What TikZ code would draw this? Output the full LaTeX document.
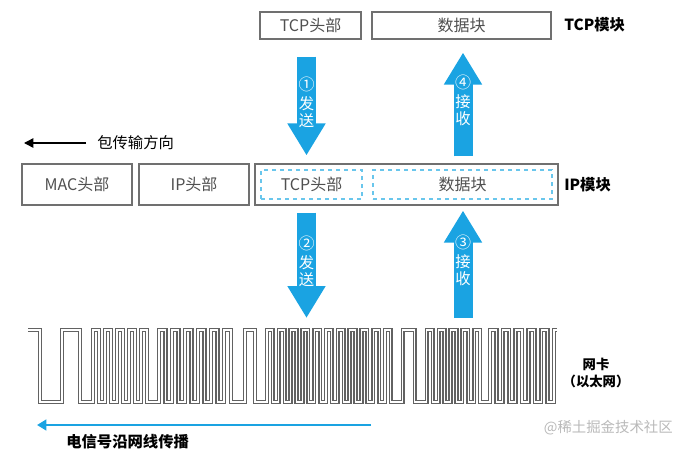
\documentclass[tikz,border=0pt]{standalone}
\usepackage{fontspec}
\setmainfont{Noto Sans CJK SC}
\usepackage{tikz}
\usetikzlibrary{shapes,arrows.meta,calc}
\definecolor{boxgray}{RGB}{112,112,112}
\definecolor{txtgray}{RGB}{80,80,80}
\definecolor{netblue}{RGB}{26,163,226}
\definecolor{dashblue}{RGB}{105,198,236}
\definecolor{wiregray}{RGB}{98,98,98}
\definecolor{markgray}{RGB}{185,185,185}
\newcommand{\pktfield}[4] {\node at (#1) (#2) [field, minimum width=#3] {#4};}
\newcommand{\pktsubfield}[4] {\node at (#1) (#2) [subfield, minimum width=#3] {#4};}
\newcommand{\layerlabel}[3] {\node at (#1) (#2) [layer] {#3};}
\newcommand{\fatarrow}[3] {\draw [fat] (#1) -- (#2) node [midway, yshift=3pt, fattext] {#3};}

\begin{document}
\begin{tikzpicture}[x=0.75pt, y=-0.75pt,
  field/.style={rectangle, draw=boxgray, line width=0.8pt, minimum height=30.75pt, inner sep=0pt, text=txtgray, font=\fontsize{12pt}{14pt}\selectfont},
  subfield/.style={rectangle, draw=dashblue, dashed, line width=0.8pt, minimum height=21.75pt, inner sep=0pt, text=txtgray, font=\fontsize{12pt}{14pt}\selectfont},
  layer/.style={anchor=west, inner sep=0pt, font=\bfseries\fontsize{11.5pt}{14pt}\selectfont},
  fat/.style={netblue, line width=14.25pt, -{Triangle[width=27pt, length=24pt]}},
  fattext/.style={align=center, text=white, inner sep=0pt, font=\fontsize{11.5pt}{12.5pt}\selectfont},
  wire/.style={draw=wiregray, line width=1.2pt, double=white, double distance=0.8pt, line join=miter}]
\useasboundingbox (0,0) rectangle (686,450);

% tcp module
\node at (310.5,25.5) (tcpTop) [field, minimum height=20.25pt, minimum width=75.75pt] {TCP头部};
\node at (461.5,25.5) (dataTop) [field, minimum height=20.25pt, minimum width=134.25pt] {数据块};
\layerlabel {564,25}{tcpMod}{TCP模块};

% direction
\node at (97,143) (dirLbl) [anchor=west, inner sep=0pt, font=\fontsize{11.5pt}{14pt}\selectfont] {包传输方向};
\coordinate (dirEnd) at (24,143);
\draw [line width=1.1pt, -{Triangle[width=7pt, length=7pt]}, shorten <=8.25pt] (dirLbl.west) -- (dirEnd);

% ip module
\pktfield {77,184.5}{macHdr}{82.5pt}{MAC头部};
\pktfield {194,184.5}{ipHdr}{82.5pt}{IP头部};
\pktfield {406.5,184.5}{ipPayload}{227.25pt}{};
\pktsubfield {311.5,184.5}{ipTcp}{75.75pt}{TCP头部};
\pktsubfield {462.5,184.5}{ipData}{134.25pt}{数据块};
\layerlabel {564,185}{ipMod}{IP模块};

% nic
\coordinate (nicIn) at (306.5,318);
\coordinate (nicOut) at (463,318);
\draw [wire] (28,330) foreach \w [count=\i] in {12,22,18,13,
  6,6,6,6,6,6,6,6,6, 12,
  6.5,6.5,6.5,6.5,6.5,6.5,6.5,6.5,6.5,6.5,
  7,14,10,12,
  5.9,5.9,5.9,5.9,5.9,5.9,5.9,5.9,5.9,5.9,5.9,5.9,5.9,5.9,5.9,5.9,5.9,5.9,5.9,5.9,5.9,
  12,12,12,
  5.9,5.9,5.9,5.9,5.9,5.9,5.9,5.9,5.9,
  10,
  6.4,6.4,6.4,6.4,6.4,6.4,6.4,6.4,6.4,6.4}
  { -- ++(\w,0) -- ++(0,{72*(2*mod(\i,2)-1)}) } -- ++(3,0);
\node at (596,373) (nicLbl) [align=center, inner sep=0pt, font=\bfseries\fontsize{10pt}{13pt}\selectfont] {网卡\\（以太网）};

% send / receive
\fatarrow {$(tcpTop.south)+(-4,17)$}{$(ipTcp.north)+(-5,-14)$}{{\large ①}\\[2pt]发\\送};
\fatarrow {$(ipTcp.south)+(-5,13)$}{nicIn}{{\large ②}\\[2pt]发\\送};
\fatarrow {nicOut}{$(ipData.south)+(0.5,11)$}{{\large ③}\\[2pt]接\\收};
\fatarrow {$(ipData.north)+(0.5,-13)$}{$(dataTop.south)+(1.5,13)$}{{\large ④}\\[2pt]接\\收};

% signal
\coordinate (sigStart) at (371,425);
\coordinate (sigEnd) at (37,425);
\draw [netblue, line width=1.8pt, -{Triangle[width=8pt, length=7pt]}] (sigStart) -- (sigEnd);
\node at (66,442) (sigLbl) [anchor=west, inner sep=0pt, font=\bfseries\fontsize{11.5pt}{14pt}\selectfont] {电信号沿网线传播};
\node at (673,428) (wmark) [anchor=east, inner sep=0pt, text=markgray, font=\fontsize{10.8pt}{13pt}\selectfont] {@稀土掘金技术社区};
\end{tikzpicture}
\end{document}
